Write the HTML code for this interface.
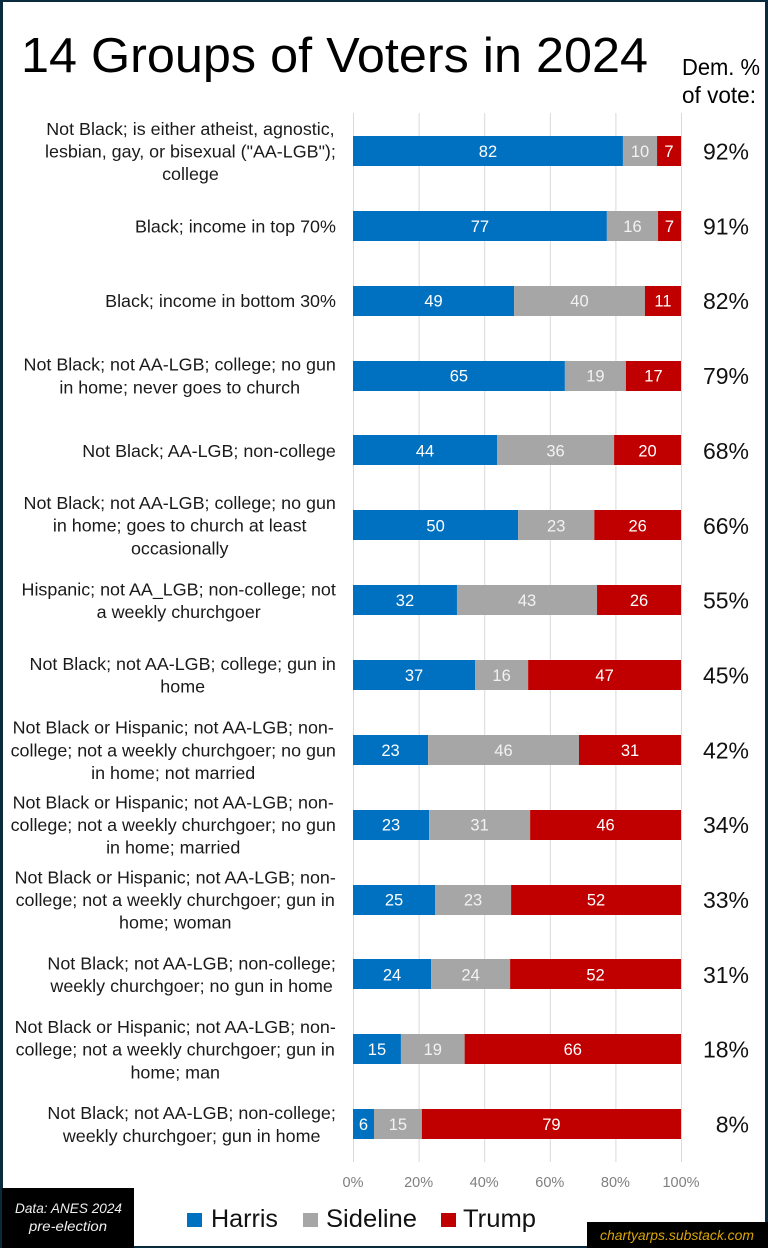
<!DOCTYPE html>
<html lang="en">
<head>
<meta charset="utf-8">
<title>14 Groups of Voters in 2024</title>
<style>
html,body{margin:0;padding:0;background:#fff;}
body{width:768px;height:1248px;overflow:hidden;}
svg{display:block;font-family:"Liberation Sans",sans-serif;}
</style>
</head>
<body>
<svg id="chart" xmlns="http://www.w3.org/2000/svg" width="768" height="1248" viewBox="0 0 768 1248">
  <rect x="0" y="0" width="768" height="1248" fill="#ffffff"/>
  <g fill="#0a2a3e">
    <rect x="0" y="0" width="768" height="2"/>
    <rect x="0" y="0" width="3" height="1248"/>
    <rect x="765" y="0" width="3" height="1223"/>
    <rect x="0" y="1246" width="768" height="2"/>
  </g>
  <text x="21" y="72" font-size="49" fill="#000" textLength="627" lengthAdjust="spacingAndGlyphs">14 Groups of Voters in 2024</text>
  <text x="682" y="75" font-size="23" fill="#000" textLength="78" lengthAdjust="spacingAndGlyphs">Dem. %</text>
  <text x="682" y="103" font-size="23" fill="#000" textLength="74" lengthAdjust="spacingAndGlyphs">of vote:</text>
  <g id="grid"></g>
  <g id="bars"></g>
  <g id="labels"></g>
  <g id="ticks"></g>
  <g id="dem"></g>
  <g>
    <rect x="187" y="1213" width="15" height="14" fill="#0070c0"/>
    <text x="211" y="1227" font-size="25" fill="#111" textLength="67" lengthAdjust="spacingAndGlyphs">Harris</text>
    <rect x="303" y="1213" width="15" height="14" fill="#a6a6a6"/>
    <text x="326" y="1227" font-size="25" fill="#111" textLength="91" lengthAdjust="spacingAndGlyphs">Sideline</text>
    <rect x="441" y="1213" width="15" height="14" fill="#c00000"/>
    <text x="463" y="1227" font-size="25" fill="#111" textLength="73" lengthAdjust="spacingAndGlyphs">Trump</text>
  </g>
  <rect x="2" y="1188" width="132" height="60" fill="#000"/>
  <text x="15" y="1213" font-size="14" font-style="italic" fill="#f0f0f0" textLength="107" lengthAdjust="spacingAndGlyphs">Data: ANES 2024</text>
  <text x="29" y="1231" font-size="14" font-style="italic" fill="#f0f0f0" textLength="78" lengthAdjust="spacingAndGlyphs">pre-election</text>
  <rect x="587" y="1222" width="181" height="26" fill="#000"/>
  <text x="600" y="1240" font-size="14" font-style="italic" fill="#dba506" textLength="154" lengthAdjust="spacingAndGlyphs">chartyarps.substack.com</text>
</svg>
<script>
const categories = [
  ["Not Black; is either atheist, agnostic,","lesbian, gay, or bisexual (\"AA-LGB\");","college"],
  ["Black; income in top 70%"],
  ["Black; income in bottom 30%"],
  ["Not Black; not AA-LGB; college; no gun","in home; never goes to church"],
  ["Not Black; AA-LGB; non-college"],
  ["Not Black; not AA-LGB; college; no gun","in home; goes to church at least","occasionally"],
  ["Hispanic; not AA_LGB; non-college; not","a weekly churchgoer"],
  ["Not Black; not AA-LGB; college; gun in","home"],
  ["Not Black or Hispanic; not AA-LGB; non-","college; not a weekly churchgoer; no gun","in home; not married"],
  ["Not Black or Hispanic; not AA-LGB; non-","college; not a weekly churchgoer; no gun","in home; married"],
  ["Not Black or Hispanic; not AA-LGB; non-","college; not a weekly churchgoer; gun in","home; woman"],
  ["Not Black; not AA-LGB; non-college;","weekly churchgoer; no gun in home"],
  ["Not Black or Hispanic; not AA-LGB; non-","college; not a weekly churchgoer; gun in","home; man"],
  ["Not Black; not AA-LGB; non-college;","weekly churchgoer; gun in home"]
];
const harris   = [82.3,77.4,49.1,64.6,43.9,50.3,31.7,37.2,22.9,23.2,25.0,23.8,14.6,6.4];
const sideline = [10.4,15.6,39.9,18.6,35.7,23.2,42.7,16.2,46.0,30.8,23.2,24.1,19.4,14.6];
const trump    = [7.3,7.0,11.0,16.8,20.4,26.4,25.6,46.6,31.1,46.0,51.8,52.1,65.9,79.0];
const demShare = [92,91,82,79,68,66,55,45,42,34,33,31,18,8];
const xTicks   = [0,20,40,60,80,100];

const NS = "http://www.w3.org/2000/svg";
const X0 = 353, X1 = 681, ROW0 = 151, ROWSTEP = 74.85, BARH = 30;
const xScale = v => X0 + (X1 - X0) * v / 100;
const yScale = i => ROW0 + ROWSTEP * i;
function make(tag, parent, attrs, txt){
  const el = document.createElementNS(NS, tag);
  for (const k in attrs) el.setAttribute(k, attrs[k]);
  if (txt !== undefined) el.textContent = txt;
  parent.appendChild(el);
  return el;
}
const grid = document.getElementById("grid");
const bars = document.getElementById("bars");
const labels = document.getElementById("labels");
const ticks = document.getElementById("ticks");
const dem = document.getElementById("dem");

xTicks.forEach(t => {
  const l = make("line", grid, {x1:xScale(t)+0.5, x2:xScale(t)+0.5, y1:113, y2:1162, stroke:"#d9d9d9", "stroke-width":1});
  
  
  const tx = make("text", ticks, {x:xScale(t), y:1187, "font-size":14.5, fill:"#7f7f7f", "text-anchor":"middle"}, t + "%");
  
  
});

const seriesList = [
  {values:harris, color:"#0070c0", name:"harris", ink:"#ffffff"},
  {values:sideline, color:"#a6a6a6", name:"sideline", ink:"#f2f2f2"},
  {values:trump, color:"#c00000", name:"trump", ink:"#ffffff"}
];
categories.forEach((lines, i) => {
  const total = harris[i] + sideline[i] + trump[i];
  let acc = 0;
  const cy = yScale(i);
  seriesList.forEach(s => {
    const share = s.values[i] / total * 100;
    const x = xScale(acc), w = xScale(acc + share) - x;
    const r = make("rect", bars, {x:x, y:Math.round(cy - BARH/2), width:w, height:BARH, fill:s.color});
    
    
    const v = make("text", bars, {x:x + w/2, y:cy + 6, "font-size":16.5, fill:s.ink, "text-anchor":"middle"}, Math.round(s.values[i]));
    
    
    acc += share;
  });

  const g = make("g", labels, {});
  
  
  const texts = lines.map((line, j) => {
    const y = cy + 6.5 + (j - (lines.length - 1) / 2) * 22.6;
    const t = make("text", g, {x:0, y:y, "font-size":18, fill:"#1a1a1a", "text-anchor":"middle"}, line);
    
    
    return t;
  });
  const maxW = Math.max(...texts.map(t => t.getComputedTextLength()));
  const sx = 0.995;
  g.setAttribute("transform", "translate(" + (336 - maxW * sx / 2) + ",0) scale(" + sx + ",1)");

  const d = make("text", dem, {x:749, y:cy + 8.5, "font-size":23, fill:"#111", "text-anchor":"end"}, demShare[i] + "%");
  
  
});
</script>
</body>
</html>
